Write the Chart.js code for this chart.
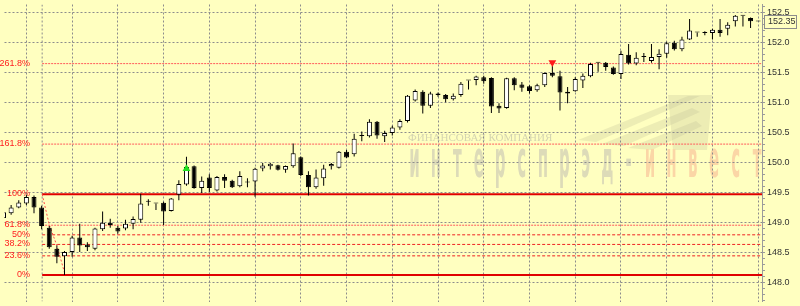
<!DOCTYPE html>
<html><head><meta charset="utf-8">
<script src="https://cdn.jsdelivr.net/npm/chart.js@4"></script>
<style>html,body{margin:0;padding:0;background:#ffffc0;overflow:hidden}canvas{display:block}</style>
</head><body>
<canvas id="c" width="800" height="306"></canvas>
<script>
// ---- data ----
const opens = [149.080,149.161,149.253,149.322,149.430,149.253,148.918,148.568,148.445,148.515,
148.757,148.639,148.568,148.891,148.999,148.918,148.907,148.983,149.052,149.350,
149.322,149.334,149.198,149.468,149.637,149.941,149.581,149.754,149.537,149.763,
149.699,149.608,149.673,149.689,149.904,149.941,149.957,149.883,149.941,150.093,
149.796,149.592,149.742,149.941,149.915,150.183,150.141,150.445,150.442,150.684,
150.442,150.497,150.587,150.695,151.035,151.180,150.949,151.153,151.127,151.056,
151.127,151.369,151.379,151.422,151.411,150.949,150.910,151.406,151.304,151.272,
151.208,151.288,151.495,151.439,151.180,151.191,151.369,151.439,151.665,151.665,
151.584,151.476,151.799,151.653,151.762,151.692,151.762,151.815,151.999,151.891,
152.052,152.166,152.161,152.161,152.214,152.230,152.355,152.445,152.408,152.350];
const highs = [149.225,149.295,149.376,149.468,149.456,149.285,148.946,148.623,148.531,148.784,
148.983,148.676,148.918,149.188,149.069,148.946,149.052,149.107,149.484,149.392,
149.322,149.350,149.414,149.710,150.098,149.952,149.770,149.807,149.779,149.807,
149.718,149.860,149.742,149.915,149.996,149.996,149.968,149.952,150.319,150.103,
149.860,149.888,149.968,149.996,150.195,150.211,150.481,150.518,150.723,150.695,
150.534,150.615,150.723,151.127,151.217,151.208,151.180,151.169,151.143,151.153,
151.342,151.369,151.450,151.450,151.422,150.991,151.414,151.422,151.342,151.288,
151.314,151.503,151.611,151.531,151.261,151.422,151.487,151.665,151.665,151.676,
151.600,151.863,151.977,151.838,151.826,151.977,151.891,152.015,152.031,152.096,
152.392,152.166,152.187,152.230,152.392,152.338,152.461,152.445,152.419,152.350];
const lows = [149.048,149.133,149.241,149.295,149.161,148.891,148.568,148.325,148.130,148.434,
148.515,148.531,148.542,148.865,148.918,148.821,148.875,148.891,148.999,149.285,
149.214,148.962,149.188,149.376,149.618,149.565,149.495,149.511,149.521,149.581,
149.581,149.592,149.592,149.435,149.860,149.888,149.872,149.834,149.915,149.779,
149.456,149.565,149.618,149.888,149.904,150.077,150.102,150.356,150.421,150.400,
150.345,150.453,150.550,150.668,151.019,150.820,150.910,151.099,151.007,151.035,
151.099,151.217,151.288,151.314,150.829,150.829,150.897,151.208,151.180,151.153,
151.180,151.261,151.422,150.868,150.991,151.180,151.245,151.422,151.514,151.531,
151.463,151.395,151.637,151.621,151.676,151.665,151.556,151.746,151.870,151.854,
152.041,152.096,152.122,152.052,152.096,152.122,152.267,152.267,152.241,152.350];
const closes = [149.177,149.253,149.338,149.430,149.253,148.946,148.595,148.434,148.515,148.757,
148.623,148.595,148.907,148.999,148.962,148.854,148.983,149.064,149.322,149.350,
149.322,149.188,149.403,149.645,149.928,149.581,149.699,149.581,149.763,149.699,
149.592,149.779,149.673,149.899,149.952,149.985,149.883,149.947,150.157,149.796,
149.592,149.754,149.904,149.980,150.183,150.086,150.400,150.445,150.684,150.453,
150.497,150.587,150.695,151.115,151.196,150.949,151.153,151.127,151.056,151.115,
151.314,151.369,151.434,151.358,150.938,150.901,151.406,151.288,151.250,151.196,
151.288,151.492,151.450,151.169,151.153,151.395,151.450,151.644,151.665,151.595,
151.476,151.810,151.653,151.746,151.762,151.762,151.815,151.988,151.891,152.052,
152.203,152.166,152.161,152.214,152.161,152.295,152.445,152.445,152.355,152.350];

const fibLabels = ['0%','23.6%','38.2%','50%','61.8%','100%','161.8%','261.8%'];
const fibLevels = [148.13,148.45,148.64,148.80,148.96,149.475,150.31,151.65];
const fibStartBar = 5.07;
const swingBars = [5.07,6.0,7.0,8.1];
const swingValues = [149.475,148.97,148.62,148.13];
const buyBars = [24];   const buyValues = [149.90];
const sellBars = [72];  const sellValues = [151.67];
const lastPrice = 152.35;
const yTickStep = 0.1, yLabelStep = 0.5, xGridStep = 6;

// ---- view ----
const xMin = 0.13, xMax = 99.5, yMin = 147.69, yMax = 152.634;
const idx = opens.map((_, i) => i);
const isMajor = v => Math.abs(v / yLabelStep - Math.round(v / yLabelStep)) < 1e-6;
const NARROW = '"Liberation Sans Narrow","Arial Narrow","Liberation Sans",Arial,sans-serif';

const datasets = [];
datasets.push({type:'line', data: buyBars.map((b,k)=>({x:b,y:buyValues[k]})), showLine:false,
  pointStyle:'triangle', pointRadius:4.5, pointBackgroundColor:'#22e022', pointBorderColor:'#22e022', pointBorderWidth:0, rotation:0, order:0});
datasets.push({type:'line', data: sellBars.map((b,k)=>({x:b,y:sellValues[k]})), showLine:false,
  pointStyle:'triangle', pointRadius:4.5, pointBackgroundColor:'#ff1a1a', pointBorderColor:'#ff1a1a', pointBorderWidth:0, rotation:180, order:0});
datasets.push({type:'bar', data: idx.map(i=>({x:i,y:[opens[i],closes[i]]})),
  backgroundColor: idx.map(i=> closes[i] >= opens[i] ? '#ffffff' : '#000000'),
  borderColor:'#000000', borderWidth:1, borderSkipped:false, barThickness:5, minBarLength:1,
  inflateAmount:0, grouped:false, order:1});
datasets.push({type:'bar', data: idx.map(i=>({x:i,y:[lows[i],highs[i]]})),
  backgroundColor:'#000000', borderWidth:0, barThickness:1, inflateAmount:0, grouped:false, order:2});
fibLabels.forEach((lab,k)=>{
  const solid = (lab==='0%'||lab==='100%');
  const light = (lab==='61.8%'||lab==='161.8%'||lab==='261.8%');
  datasets.push({type:'line', data:[{x:fibStartBar,y:fibLevels[k]},{x:xMax,y:fibLevels[k]}],
    borderColor: solid ? '#e00000' : (light ? '#ff5a5a' : '#ee2222'),
    borderWidth: solid ? 2 : 1, borderDash: solid ? [] : (light ? [2,1] : [3,2]),
    pointRadius:0, order:10});
});
datasets.push({type:'line', data: swingBars.map((b,k)=>({x:b,y:swingValues[k]})),
  borderColor:'#ff4a4a', borderWidth:1, borderDash:[2,2], pointRadius:0, order:9});
datasets.push({type:'line', data:[{x:fibStartBar,y:yMax},{x:fibStartBar,y:yMin}],
  borderColor:'#8c8c8c', borderWidth:1, borderDash:[2,2], pointRadius:0, order:11});

const decor = {
  id:'decor',
  beforeDraw(chart){
    const ctx = chart.ctx;
    ctx.save();
    // faint logo
    ctx.fillStyle = 'rgba(190,190,150,0.28)';
    const polys = [
      [[578,140],[688,96],[700,96],[596,142]],
      [[602,144],[692,108],[700,112],[624,146]],
      [[628,148],[696,121],[702,126],[652,150]],
      [[668,95],[712,95],[707,150],[673,150]]
    ];
    polys.forEach(p=>{ctx.beginPath();ctx.moveTo(p[0][0],p[0][1]);for(let j=1;j<p.length;j++)ctx.lineTo(p[j][0],p[j][1]);ctx.closePath();ctx.fill();});
    ctx.font = '11px "Liberation Serif","DejaVu Serif",serif';
    ctx.fillStyle = '#d4d4b0';
    ctx.textBaseline = 'alphabetic';
    ctx.textAlign = 'left';
    ctx.fillText('ФИНАНСОВАЯ КОМПАНИЯ', 408, 141);
    const letters = 'интерспрэд-инвест';
    for (let k=0;k<letters.length;k++){
      ctx.save();
      ctx.translate(414.6 + k*21.4, 177);
      ctx.scale(0.75, 2.6);
      ctx.font = 'bold 20px "DejaVu Sans",sans-serif';
      ctx.textAlign = 'center';
      ctx.fillStyle = k >= 11 ? '#fbd6a6' : '#dddbb8';
      ctx.fillText(letters[k], 0, 0);
      ctx.restore();
    }
    ctx.restore();
  },
  afterDraw(chart){
    const ctx = chart.ctx, ys = chart.scales.y;
    ctx.save();
    ctx.font = '9px ' + NARROW;
    ctx.fillStyle = '#ff2020';
    ctx.textAlign = 'right';
    ctx.textBaseline = 'middle';
    fibLabels.forEach((t,k)=> ctx.fillText(t, 30, ys.getPixelForValue(fibLevels[k]) - 0.5));
    const py = ys.getPixelForValue(lastPrice);
    ctx.fillStyle = '#ffffc0';
    ctx.fillRect(764, py-6, 33, 12);
    ctx.strokeStyle = '#8c8c8c';
    ctx.lineWidth = 1;
    ctx.strokeRect(764.5, Math.round(py)-6.5, 32, 13);
    ctx.fillStyle = '#333333';
    ctx.textAlign = 'left';
    ctx.fillText(lastPrice.toFixed(2), 768, py);
    ctx.restore();
  }
};

new Chart(document.getElementById('c'), {
  type:'bar',
  data:{datasets},
  plugins:[decor],
  options:{
    responsive:false, animation:false, events:[],
    layout:{padding:0},
    plugins:{legend:{display:false}, tooltip:{enabled:false}},
    scales:{
      x:{type:'linear', min:xMin, max:xMax, offset:false,
         ticks:{display:false, stepSize:xGridStep, includeBounds:false},
         grid:{color:'#8c8c8c', lineWidth:1, drawTicks:false},
         border:{display:false, dash:[2,2]}},
      y:{type:'linear', position:'right', min:yMin, max:yMax,
         ticks:{stepSize:yTickStep, includeBounds:false, autoSkip:false, color:'#333333', padding:2,
                font:{family:NARROW, size:9},
                callback:(v)=> isMajor(v) ? Number(v).toFixed(1) : ''},
         grid:{color:(c)=> (c.tick && isMajor(c.tick.value)) ? '#8c8c8c' : 'rgba(0,0,0,0)',
               tickColor:'#9a9a9a', tickLength:3, lineWidth:1},
         border:{display:true, color:'#9a9a9a', width:1, dash:[2,2]},
         afterFit(s){ s.width = 38; s.paddingTop = 0; s.paddingBottom = 0; }}
    }
  }
});
</script>
</body></html>
